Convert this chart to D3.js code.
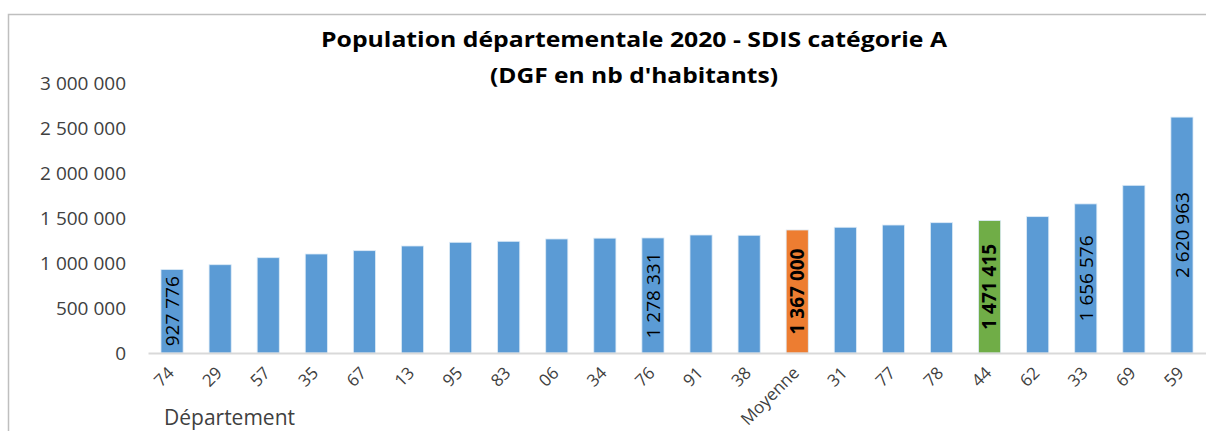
<!DOCTYPE html>
<html>
<head>
<meta charset="utf-8">
<script src="https://cdn.jsdelivr.net/npm/d3@7"></script>
<style>
  body { margin: 0; background: #fff; overflow: hidden; }
  svg { display: block; font-family: "Open Sans", sans-serif; }
</style>
</head>
<body>
<svg id="chart"></svg>
<script>
// departements, sorted by population
const departements = ["74", "29", "57", "35", "67", "13", "95", "83", "06", "34", "76",
    "91", "38", "Moyenne", "31", "77", "78", "44", "62", "33", "69", "59"];
const population = [927776, 981000, 1059000, 1100000, 1137000, 1189000, 1230000, 1241000,
    1267000, 1276000, 1278331, 1311000, 1308000, 1367000, 1397000, 1422000, 1448000,
    1471415, 1515000, 1656576, 1863000, 2620963];
// only some bars carry a value label
const labelled = ["74", "76", "Moyenne", "44", "33", "59"];
const yTicks = [0, 500000, 1000000, 1500000, 2000000, 2500000, 3000000];

const width = 1206;
const height = 431;

const svg = d3.select("#chart")
    .attr("width", width)
    .attr("height", height)
    .attr("viewBox", `0 0 ${width} ${height}`);

// chart frame: only top and left edges are inside the picture
svg.append("path")
    .attr("d", `M8.5,${height} V14.5 H${width}`)
    .attr("fill", "none")
    .attr("stroke", "#bfbfbf")
    .attr("stroke-width", 1.5);

const x = d3.scaleBand()
    .domain(departements)
    .range([148, 1206])
    .paddingInner(0.54)
    .paddingOuter(0.27);

const y = d3.scaleLinear()
    .domain([0, 3000000])
    .range([353, 83]);

const fmt = (v) => d3.format(",")(v).replace(/,/g, " ");

const colorOf = (d) => d === "Moyenne" ? "#ED7D31" : d === "44" ? "#70AD47" : "#5B9BD5";

const data = departements.map((d, i) => ({ dep: d, value: population[i] }));

// y axis labels only, no line
const yAxis = svg.append("g")
    .attr("transform", "translate(126,0)")
    .call(d3.axisLeft(y).tickValues(yTicks).tickSize(0).tickPadding(0).tickFormat(fmt));
yAxis.select(".domain").remove();
yAxis.selectAll("text")
    .attr("font-size", 19)
    .attr("font-family", "'Open Sans', sans-serif")
    .attr("fill", "#404040");

// bars
svg.append("g").selectAll("rect")
    .data(data)
    .join("rect")
    .attr("x", (d) => x(d.dep))
    .attr("y", (d) => y(d.value))
    .attr("width", x.bandwidth())
    .attr("height", (d) => y(0) - y(d.value))
    .attr("fill", (d) => colorOf(d.dep))
    .attr("stroke", "#ddebf7")
    .attr("stroke-width", 0.8);

// x axis
const xAxis = svg.append("g")
    .attr("transform", `translate(0,${y(0)})`)
    .call(d3.axisBottom(x).tickSize(0).tickPadding(0));
xAxis.select(".domain")
    .attr("stroke", "#d9d9d9")
    .attr("stroke-width", 2);
xAxis.selectAll("text")
    .attr("font-size", 17)
    .attr("font-family", "'Open Sans', sans-serif")
    .attr("fill", "#404040")
    .attr("text-anchor", "end")
    .attr("dy", null)
    .attr("y", 0)
    .attr("transform", "translate(3,21) rotate(-45)");

// value labels inside bars
svg.append("g").selectAll("text")
    .data(data.filter((d) => labelled.includes(d.dep)))
    .join("text")
    .attr("transform", (d) => {
        const cx = x(d.dep) + x.bandwidth() / 2;
        const cy = (y(0) + y(d.value)) / 2;
        return `translate(${cx},${cy}) rotate(-90)`;
    })
    .attr("text-anchor", "middle")
    .attr("dy", "0.36em")
    .attr("font-size", 19)
    .attr("font-weight", (d) => (d.dep === "Moyenne" || d.dep === "44") ? "bold" : "normal")
    .attr("fill", "#000")
    .text((d) => fmt(d.value));

// title (glyphs a bit wider than the font, as in the original)
const title = svg.append("text")
    .attr("text-anchor", "middle")
    .attr("font-size", 21)
    .attr("font-weight", "bold")
    .attr("fill", "#000");
title.append("tspan").attr("x", 634).attr("y", 47)
    .attr("textLength", 626).attr("lengthAdjust", "spacingAndGlyphs")
    .text("Population  départementale 2020 - SDIS catégorie A");
title.append("tspan").attr("x", 634).attr("y", 83)
    .attr("textLength", 288).attr("lengthAdjust", "spacingAndGlyphs")
    .text("(DGF en nb d'habitants)");

// axis title
svg.append("text")
    .attr("x", 164)
    .attr("y", 425)
    .attr("font-size", 21)
    .attr("fill", "#404040")
    .text("Département");
</script>
</body>
</html>
